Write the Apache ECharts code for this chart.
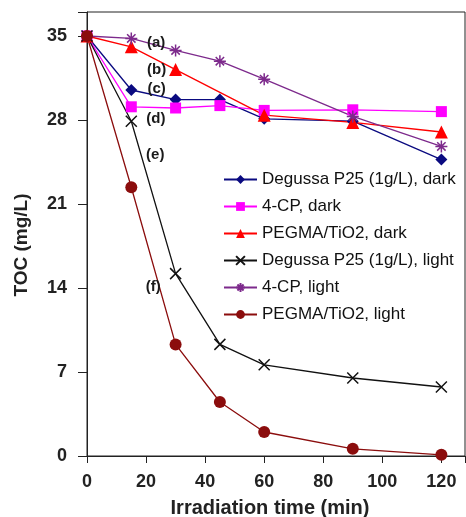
<!DOCTYPE html>
<html>
<head>
<meta charset="utf-8">
<script src="https://cdn.jsdelivr.net/npm/echarts@6/dist/echarts.min.js"></script>
<style>
  html, body { margin: 0; padding: 0; background: #fff; }
  #chart { width: 466px; height: 517px; }
</style>
</head>
<body>
<div id="chart"></div>
<script>
// irradiation times (min)
const times = [0, 15, 30, 45, 60, 90, 120];
// TOC (mg/L)
const degussaDark = [35, 30.5, 29.7, 29.7, 28.1, 27.9, 24.7];
const cpDark = [35, 29.1, 29.0, 29.2, 28.8, 28.85, 28.7];
const pegmaDarkTimes = [0, 15, 30, 60, 90, 120];
const pegmaDark = [35, 34.1, 32.2, 28.4, 27.8, 27.0];
const degussaLight = [35, 27.9, 15.2, 9.3, 7.6, 6.5, 5.75];
const cpLight = [35, 34.8, 33.8, 32.9, 31.4, 28.3, 25.8];
const pegmaLight = [35, 22.4, 9.3, 4.5, 2.0, 0.6, 0.1];
// curve tags
const tagNames = ["(a)", "(b)", "(c)", "(d)", "(e)", "(f)"];
const tagX = [23.4, 23.6, 23.6, 23.3, 23.1, 22.4];
const tagY = [34.4, 32.2, 30.6, 28.1, 25.1, 14.1];

const seriesNames = [
  "Degussa P25 (1g/L), dark",
  "4-CP, dark",
  "PEGMA/TiO2, dark",
  "Degussa P25 (1g/L), light",
  "4-CP, light",
  "PEGMA/TiO2, light"
];

function pairs(xs, ys) {
  return xs.map((x, i) => [x, ys[i]]);
}

const xPath = "path://M0,0L10,10M10,0L0,10";
const starPath = "path://M5,0L5,10M0,5L10,5M1.5,1.5L8.5,8.5M8.5,1.5L1.5,8.5";

function lineSeries(name, data, color, symbol, size, stroke) {
  return {
    name: name,
    type: "line",
    data: data,
    symbol: symbol,
    symbolSize: size,
    showAllSymbol: true,
    lineStyle: { color: color, width: 1.3 },
    itemStyle: stroke
      ? { color: "rgba(0,0,0,0)", borderColor: color, borderWidth: 1.5 }
      : { color: color },
    emphasis: { disabled: true },
    z: 3
  };
}

const font = "Liberation Sans, Arial, sans-serif";
const chart = echarts.init(document.getElementById("chart"));
chart.setOption({
  animation: false,
  textStyle: { fontFamily: font },
  grid: {
    left: 87, top: 12, right: 1, bottom: 61,
    outerBoundsMode: "none",
    show: true, borderColor: "#222", borderWidth: 1
  },
  legend: {
    data: seriesNames,
    orient: "vertical",
    left: 218,
    top: 166,
    itemWidth: 33,
    itemHeight: 11,
    itemGap: 10,
    textStyle: { fontSize: 17, color: "#111", fontFamily: font }
  },
  xAxis: {
    type: "value",
    min: 0,
    max: 128,
    interval: 20,
    name: "Irradiation time (min)",
    nameLocation: "middle",
    nameGap: 42,
    nameTextStyle: { fontSize: 20, fontWeight: "bold", color: "#222", padding: [0, 12, 0, 0] },
    axisLine: { lineStyle: { color: "#222" } },
    axisTick: { inside: false, length: 7, lineStyle: { color: "#222" } },
    splitLine: { show: false },
    axisLabel: {
      fontSize: 18, fontWeight: "bold", color: "#222", margin: 17,
      formatter: v => (v % 20 === 0 ? String(v) : "")
    }
  },
  yAxis: {
    type: "value",
    min: 0,
    max: 37,
    interval: 7,
    name: "TOC (mg/L)",
    nameLocation: "middle",
    nameGap: 56,
    nameTextStyle: { fontSize: 19, fontWeight: "bold", color: "#222", padding: [0, 22, 0, 0] },
    axisLine: { show: true, lineStyle: { color: "#222" } },
    axisTick: { show: true, inside: false, length: 9, lineStyle: { color: "#222" } },
    splitLine: { show: false },
    axisLabel: {
      fontSize: 18, fontWeight: "bold", color: "#222", margin: 20,
      formatter: v => (v % 7 === 0 ? String(v) : "")
    }
  },
  series: [
    lineSeries(seriesNames[0], pairs(times, degussaDark), "#0a0a80", "diamond", 12),
    lineSeries(seriesNames[1], pairs(times, cpDark), "#ff00ff", "rect", 11),
    lineSeries(seriesNames[2], pairs(pegmaDarkTimes, pegmaDark), "#ff0000", "triangle", 13),
    lineSeries(seriesNames[3], pairs(times, degussaLight), "#111111", xPath, 11, true),
    lineSeries(seriesNames[4], pairs(times, cpLight), "#7d2a8c", starPath, 12, true),
    lineSeries(seriesNames[5], pairs(times, pegmaLight), "#8b0d0d", "circle", 12),
    {
      name: "tags",
      type: "scatter",
      silent: true,
      symbolSize: 0,
      itemStyle: { color: "#222", opacity: 1 },
      data: tagX.map((x, i) => ({ value: [x, tagY[i]], label: { formatter: tagNames[i] } })),
      label: {
        show: true,
        position: "inside",
        fontSize: 15,
        fontWeight: "bold",
        color: "#1a1a1a"
      },
      z: 4
    }
  ]
});
</script>
</body>
</html>
